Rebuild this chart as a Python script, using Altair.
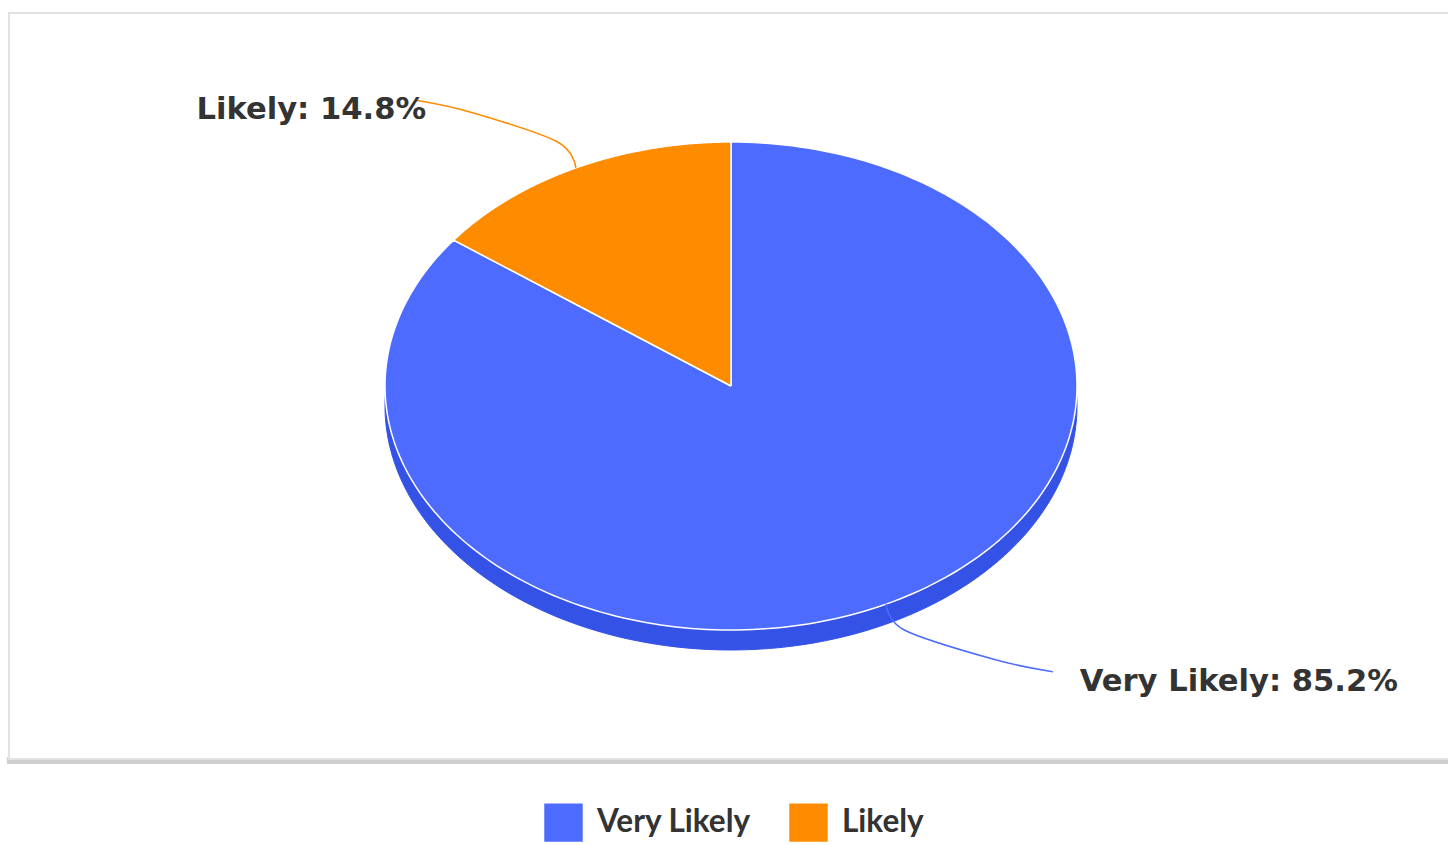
import altair as alt
import pandas as pd

# ---- data ----
categories = ["Very Likely", "Likely"]
shares = [85.2, 14.8]

# ---- styling ----
slice_colors = ["#4d6bfe", "#ff8c00"]
side_color = "#3552e6"
text_color = "#333333"

W, H = 1448, 845
CX, CY, RA, RB = 731, 386, 346, 244   # pie centre and radii in pixels (tilted view)
DEPTH_PX = 20
N = 240

xdom = [(0 - CX) / RA, (W - CX) / RA]
ydom = [(CY - H) / RB, (CY - 0) / RB]
depth = DEPTH_PX / RB

df = pd.DataFrame({"category": categories, "share": shares,
                   "idx": list(range(len(categories)))})

x_scale = alt.Scale(domain=xdom, nice=False, zero=False)
y_scale = alt.Scale(domain=ydom, nice=False, zero=False)
fill_scale = alt.Scale(domain=categories, range=slice_colors)

base = (
    alt.Chart(df)
    .transform_joinaggregate(total="sum(share)")
    .transform_window(cum="sum(share)", sort=[alt.SortField("idx")], frame=[None, 0])
    .transform_calculate(
        start="2*PI*(datum.cum - datum.share)/datum.total",
        end="2*PI*datum.cum/datum.total",
    )
    .transform_calculate(
        mid="(datum.start + datum.end)/2",
        label="datum.category + ': ' + format(datum.share, '.1f') + '%'",
    )
)

poly = (
    base.transform_calculate(k=f"sequence(0, {N + 3})")
    .transform_flatten(["k"])
    .transform_calculate(
        t=f"datum.start + (datum.end - datum.start) * clamp((datum.k - 1)/{N}, 0, 1)",
        r=f"(datum.k == 0 || datum.k == {N + 2}) ? 0 : 1",
    )
    .transform_calculate(
        px="datum.r*sin(datum.t)",
        py="datum.r*cos(datum.t)",
        py_side=f"datum.r*cos(datum.t) - {depth}",
    )
)

X = alt.X("px:Q", scale=x_scale, axis=None)

side = poly.mark_line(fill=side_color, stroke=side_color, strokeWidth=1).encode(
    x=X,
    y=alt.Y("py_side:Q", scale=y_scale, axis=None),
    detail="category:N",
    order="k:Q",
)

top = poly.mark_line(stroke="white", strokeWidth=1.5, strokeJoin="round").encode(
    x=X,
    y=alt.Y("py:Q", scale=y_scale, axis=None),
    fill=alt.Fill(
        "category:N",
        scale=fill_scale,
        legend=alt.Legend(
            title=None,
            orient="none",
            legendX=544,
            legendY=803,
            direction="horizontal",
            symbolType="square",
            symbolSize=1480,
            symbolStrokeWidth=0,
            symbolOpacity=1,
            labelFont="Lato",
            labelFontSize=31.5,
            labelFontWeight="bold",
            labelColor=text_color,
            labelOffset=14,
            columnPadding=38,
            padding=0,
        ),
    ),
    detail="category:N",
    order="k:Q",
)

# connectors: edge point -> radial corner -> bend -> end near label
conn = (
    base.transform_calculate(k="sequence(0, 4)")
    .transform_flatten(["k"])
    .transform_calculate(
        ex="sin(datum.mid)", ey="cos(datum.mid)",
    )
    .transform_calculate(
        cxp="1.12*datum.ex", cyp="1.12*datum.ey",
        endx="(datum.ex < 0 ? -0.91 : 0.93)", endy="1.31*datum.ey",
    )
    .transform_calculate(
        qx="datum.k == 0 ? datum.ex : datum.k == 1 ? datum.cxp : datum.k == 2 ? (0.4*datum.cxp + 0.6*datum.endx) : datum.endx",
        qy="datum.k == 0 ? datum.ey : datum.k == 1 ? datum.cyp : datum.k == 2 ? (0.3*datum.cyp + 0.7*datum.endy) : datum.endy",
    )
)

connectors = conn.mark_line(strokeWidth=1.6, interpolate="cardinal").encode(
    x=alt.X("qx:Q", scale=x_scale, axis=None),
    y=alt.Y("qy:Q", scale=y_scale, axis=None),
    stroke=alt.Stroke("category:N", scale=fill_scale, legend=None),
    detail="category:N",
    order="k:Q",
)

lab = base.transform_calculate(
    ex="sin(datum.mid)", ey="cos(datum.mid)"
).transform_calculate(
    endx="(datum.ex < 0 ? -0.91 : 0.93)", endy="1.31*datum.ey"
)

text_kw = dict(font="DejaVu Sans", fontSize=30.6, fontWeight="bold",
               color=text_color, baseline="alphabetic", dy=19)

labels_left = lab.transform_filter("datum.ex < 0").mark_text(align="right", dx=10, **text_kw).encode(
    x=alt.X("endx:Q", scale=x_scale, axis=None),
    y=alt.Y("endy:Q", scale=y_scale, axis=None),
    text="label:N",
)
labels_right = lab.transform_filter("datum.ex >= 0").mark_text(align="left", dx=27, **text_kw).encode(
    x=alt.X("endx:Q", scale=x_scale, axis=None),
    y=alt.Y("endy:Q", scale=y_scale, axis=None),
    text="label:N",
)

frame_data = alt.Data(values=[{"f": 1}])
shadow = alt.Chart(frame_data).mark_rect(fill="#cfcfcf").encode(
    x=alt.value(7), x2=alt.value(W + 10), y=alt.value(757), y2=alt.value(764)
)
frame = alt.Chart(frame_data).mark_rect(fill="white", stroke="#e2e2e2", strokeWidth=2).encode(
    x=alt.value(9), x2=alt.value(W + 10), y=alt.value(13), y2=alt.value(759)
)

chart = (
    alt.layer(shadow, frame, side, top, connectors, labels_left, labels_right)
    .resolve_scale(x="shared", y="shared")
    .properties(width=W, height=H, padding=0, autosize=alt.AutoSizeParams(type="none"),
                background="white")
    .configure_view(stroke=None)
)

chart.save("out.html", embed_options={"renderer": "svg", "actions": False})
